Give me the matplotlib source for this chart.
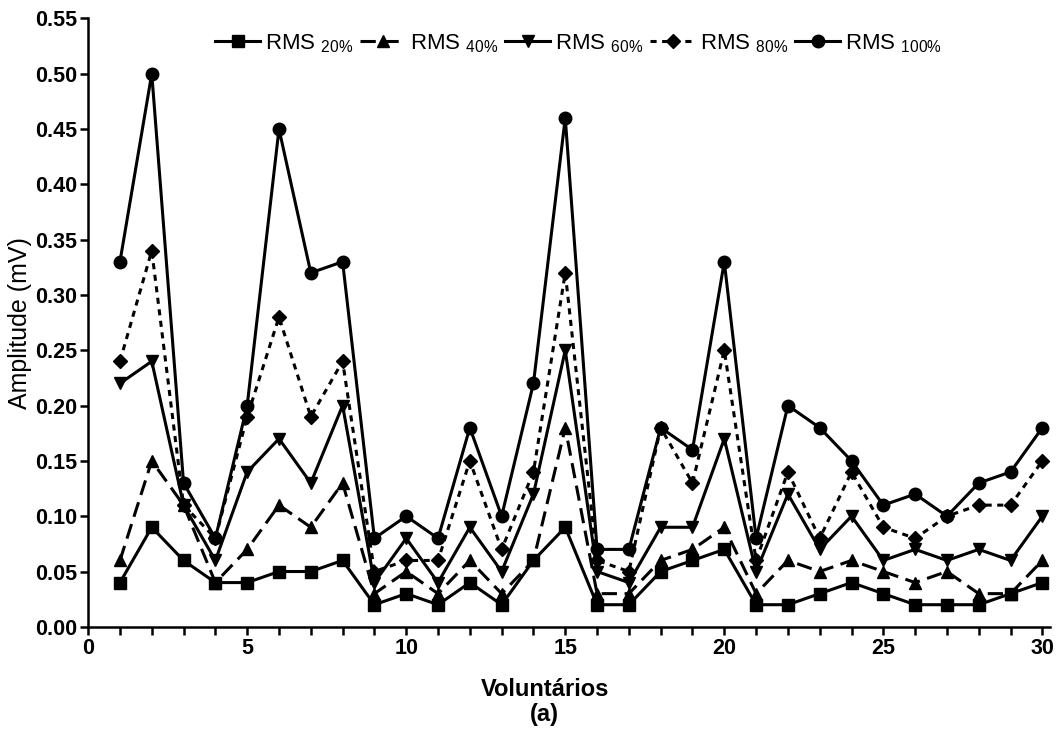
import numpy as np
import matplotlib
matplotlib.use("Agg")
import matplotlib.pyplot as plt

plt.rcParams['font.family'] = ['Liberation Sans Narrow', 'Liberation Sans', 'DejaVu Sans']
plt.rcParams['mathtext.fontset'] = 'custom'
plt.rcParams['mathtext.rm'] = 'Liberation Sans'

voluntarios = list(range(1, 31))

rms_20 = [0.04, 0.09, 0.06, 0.04, 0.04, 0.05, 0.05, 0.06, 0.02, 0.03,
          0.02, 0.04, 0.02, 0.06, 0.09, 0.02, 0.02, 0.05, 0.06, 0.07,
          0.02, 0.02, 0.03, 0.04, 0.03, 0.02, 0.02, 0.02, 0.03, 0.04]
rms_40 = [0.06, 0.15, 0.11, 0.04, 0.07, 0.11, 0.09, 0.13, 0.03, 0.05,
          0.03, 0.06, 0.03, 0.06, 0.18, 0.03, 0.03, 0.06, 0.07, 0.09,
          0.03, 0.06, 0.05, 0.06, 0.05, 0.04, 0.05, 0.03, 0.03, 0.06]
rms_60 = [0.22, 0.24, 0.11, 0.06, 0.14, 0.17, 0.13, 0.20, 0.04, 0.08,
          0.04, 0.09, 0.05, 0.12, 0.25, 0.05, 0.04, 0.09, 0.09, 0.17,
          0.05, 0.12, 0.07, 0.10, 0.06, 0.07, 0.06, 0.07, 0.06, 0.10]
rms_80 = [0.24, 0.34, 0.11, 0.08, 0.19, 0.28, 0.19, 0.24, 0.05, 0.06,
          0.06, 0.15, 0.07, 0.14, 0.32, 0.06, 0.05, 0.18, 0.13, 0.25,
          0.06, 0.14, 0.08, 0.14, 0.09, 0.08, 0.10, 0.11, 0.11, 0.15]
rms_100 = [0.33, 0.50, 0.13, 0.08, 0.20, 0.45, 0.32, 0.33, 0.08, 0.10,
           0.08, 0.18, 0.10, 0.22, 0.46, 0.07, 0.07, 0.18, 0.16, 0.33,
           0.08, 0.20, 0.18, 0.15, 0.11, 0.12, 0.10, 0.13, 0.14, 0.18]

labels = ['20%', '40%', '60%', '80%', '100%']

fig = plt.figure(figsize=(10.62, 7.34), dpi=100)
ax = fig.add_axes([0.083, 0.146, 0.906, 0.829])

lw = 2.2
styles = [
    dict(series=rms_20, marker='s', ls='-', ms=8.5),
    dict(series=rms_40, marker='^', ls=(0, (5, 2.5)), ms=8.5),
    dict(series=rms_60, marker='v', ls='-', ms=9),
    dict(series=rms_80, marker='D', ls=(0, (2, 1.8)), ms=7),
    dict(series=rms_100, marker='o', ls='-', ms=9),
]
for st, lab in zip(styles, labels):
    ax.plot(voluntarios, st['series'], color='black', linestyle=st['ls'], linewidth=lw,
            marker=st['marker'], markersize=st['ms'],
            label=r'RMS $_{\mathregular{' + lab.replace('%', r'\%') + '}}$')

ax.set_xlim(0, 30.25)
ax.set_ylim(0, 0.55)
ax.set_xticks(range(0, 31, 5))
ax.set_xticks(range(0, 31), minor=True)
ax.set_yticks(np.arange(0, 0.5501, 0.05))
ax.yaxis.set_major_formatter(matplotlib.ticker.FormatStrFormatter('%.2f'))

for s in ['top', 'right']:
    ax.spines[s].set_visible(False)
for s in ['left', 'bottom']:
    ax.spines[s].set_linewidth(1.8)
ax.tick_params(which='both', width=1.8, length=6, direction='out')
ax.tick_params(axis='both', labelsize=15.5, pad=2)
for t in ax.get_xticklabels() + ax.get_yticklabels():
    t.set_fontweight('bold')

ax.set_ylabel('Amplitude (mV)', fontsize=18, family=['Liberation Sans', 'DejaVu Sans'], labelpad=2)
fig.text(0.513, 0.060, 'Voluntários', ha='center', va='center', fontsize=17, fontweight='bold')
fig.text(0.513, 0.026, '(a)', ha='center', va='center', fontsize=17, fontweight='bold')

ax.legend(loc='upper center', bbox_to_anchor=(0.51, 1.01), ncol=5, frameon=False,
          fontsize=16, handlelength=2.0, handletextpad=0.25, columnspacing=0.3)

fig.savefig('out.png', dpi=100)
